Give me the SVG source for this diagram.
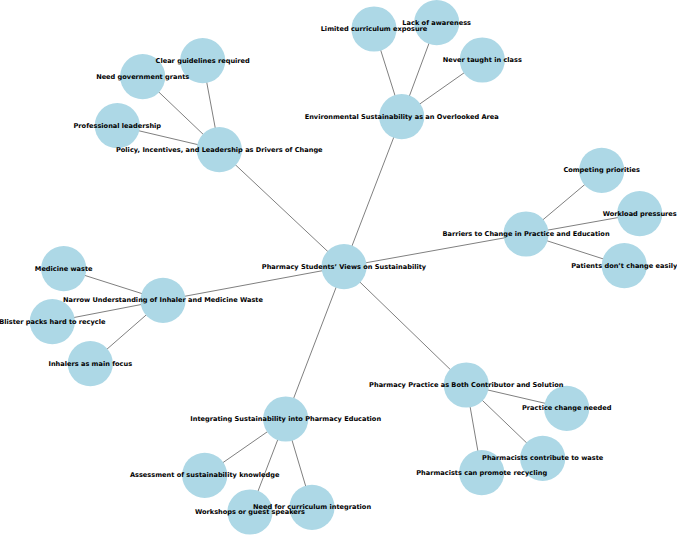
<svg xmlns="http://www.w3.org/2000/svg" width="677" height="535" viewBox="0 0 677 535">
<style>
.e{stroke:#808080;stroke-width:1;fill:none}
.n{fill:#ADD8E6}
.t{font-family:"DejaVu Sans",sans-serif;font-weight:bold;font-size:6.6px;fill:#000;text-anchor:middle;dominant-baseline:central}
</style>
<rect width="677" height="535" fill="#fff"/>
<g id="connectors">
<line class="e" x1="344" y1="266.7" x2="219.3" y2="149.7"/>
<line class="e" x1="344" y1="266.7" x2="401.7" y2="116.7"/>
<line class="e" x1="344" y1="266.7" x2="526" y2="234"/>
<line class="e" x1="344" y1="266.7" x2="163" y2="300.3"/>
<line class="e" x1="344" y1="266.7" x2="285.7" y2="419"/>
<line class="e" x1="344" y1="266.7" x2="466.3" y2="385"/>
<line class="e" x1="219.3" y1="149.7" x2="202.7" y2="60.7"/>
<line class="e" x1="219.3" y1="149.7" x2="142.7" y2="76.7"/>
<line class="e" x1="219.3" y1="149.7" x2="117.3" y2="125.7"/>
<line class="e" x1="401.7" y1="116.7" x2="374" y2="29"/>
<line class="e" x1="401.7" y1="116.7" x2="436.7" y2="22.7"/>
<line class="e" x1="401.7" y1="116.7" x2="482.3" y2="60"/>
<line class="e" x1="526" y1="234" x2="601.7" y2="170.3"/>
<line class="e" x1="526" y1="234" x2="639.7" y2="213.7"/>
<line class="e" x1="526" y1="234" x2="624.3" y2="265.7"/>
<line class="e" x1="163" y1="300.3" x2="63.7" y2="268.7"/>
<line class="e" x1="163" y1="300.3" x2="52.3" y2="321.7"/>
<line class="e" x1="163" y1="300.3" x2="90.3" y2="363.7"/>
<line class="e" x1="285.7" y1="419" x2="204.7" y2="475.3"/>
<line class="e" x1="285.7" y1="419" x2="250" y2="512"/>
<line class="e" x1="285.7" y1="419" x2="312" y2="507.3"/>
<line class="e" x1="466.3" y1="385" x2="566.7" y2="408.3"/>
<line class="e" x1="466.3" y1="385" x2="542.7" y2="458.3"/>
<line class="e" x1="466.3" y1="385" x2="481.7" y2="472.7"/>
</g>
<g id="nodes">
<g id="node-central"><circle class="n" cx="344" cy="266.7" r="22.6"/></g>
<g id="node-policy"><circle class="n" cx="219.3" cy="149.7" r="22.6"/></g>
<g id="node-clear"><circle class="n" cx="202.7" cy="60.7" r="22.6"/></g>
<g id="node-grants"><circle class="n" cx="142.7" cy="76.7" r="22.6"/></g>
<g id="node-leadership"><circle class="n" cx="117.3" cy="125.7" r="22.6"/></g>
<g id="node-env"><circle class="n" cx="401.7" cy="116.7" r="22.6"/></g>
<g id="node-limited"><circle class="n" cx="374" cy="29" r="22.6"/></g>
<g id="node-lack"><circle class="n" cx="436.7" cy="22.7" r="22.6"/></g>
<g id="node-never"><circle class="n" cx="482.3" cy="60" r="22.6"/></g>
<g id="node-barriers"><circle class="n" cx="526" cy="234" r="22.6"/></g>
<g id="node-competing"><circle class="n" cx="601.7" cy="170.3" r="22.6"/></g>
<g id="node-workload"><circle class="n" cx="639.7" cy="213.7" r="22.6"/></g>
<g id="node-patients"><circle class="n" cx="624.3" cy="265.7" r="22.6"/></g>
<g id="node-narrow"><circle class="n" cx="163" cy="300.3" r="22.6"/></g>
<g id="node-medicine"><circle class="n" cx="63.7" cy="268.7" r="22.6"/></g>
<g id="node-blister"><circle class="n" cx="52.3" cy="321.7" r="22.6"/></g>
<g id="node-inhalers"><circle class="n" cx="90.3" cy="363.7" r="22.6"/></g>
<g id="node-integrating"><circle class="n" cx="285.7" cy="419" r="22.6"/></g>
<g id="node-assessment"><circle class="n" cx="204.7" cy="475.3" r="22.6"/></g>
<g id="node-workshops"><circle class="n" cx="250" cy="512" r="22.6"/></g>
<g id="node-curriculum"><circle class="n" cx="312" cy="507.3" r="22.6"/></g>
<g id="node-practice"><circle class="n" cx="466.3" cy="385" r="22.6"/></g>
<g id="node-change"><circle class="n" cx="566.7" cy="408.3" r="22.6"/></g>
<g id="node-contribute"><circle class="n" cx="542.7" cy="458.3" r="22.6"/></g>
<g id="node-promote"><circle class="n" cx="481.7" cy="472.7" r="22.6"/></g>
</g>
<g id="labels">
<text class="t" x="344" y="266.7">Pharmacy Students’ Views on Sustainability</text>
<text class="t" x="219.3" y="149.7">Policy, Incentives, and Leadership as Drivers of Change</text>
<text class="t" x="202.7" y="60.7">Clear guidelines required</text>
<text class="t" x="142.7" y="76.7">Need government grants</text>
<text class="t" x="117.3" y="125.7">Professional leadership</text>
<text class="t" x="401.7" y="116.7">Environmental Sustainability as an Overlooked Area</text>
<text class="t" x="374" y="29">Limited curriculum exposure</text>
<text class="t" x="436.7" y="22.7">Lack of awareness</text>
<text class="t" x="482.3" y="60">Never taught in class</text>
<text class="t" x="526" y="234">Barriers to Change in Practice and Education</text>
<text class="t" x="601.7" y="170.3">Competing priorities</text>
<text class="t" x="639.7" y="213.7">Workload pressures</text>
<text class="t" x="624.3" y="265.7">Patients don’t change easily</text>
<text class="t" x="163" y="300.3">Narrow Understanding of Inhaler and Medicine Waste</text>
<text class="t" x="63.7" y="268.7">Medicine waste</text>
<text class="t" x="52.3" y="321.7">Blister packs hard to recycle</text>
<text class="t" x="90.3" y="363.7">Inhalers as main focus</text>
<text class="t" x="285.7" y="419">Integrating Sustainability into Pharmacy Education</text>
<text class="t" x="204.7" y="475.3">Assessment of sustainability knowledge</text>
<text class="t" x="250" y="512">Workshops or guest speakers</text>
<text class="t" x="312" y="507.3">Need for curriculum integration</text>
<text class="t" x="466.3" y="385">Pharmacy Practice as Both Contributor and Solution</text>
<text class="t" x="566.7" y="408.3">Practice change needed</text>
<text class="t" x="542.7" y="458.3">Pharmacists contribute to waste</text>
<text class="t" x="481.7" y="472.7">Pharmacists can promote recycling</text>
</g>
</svg>
